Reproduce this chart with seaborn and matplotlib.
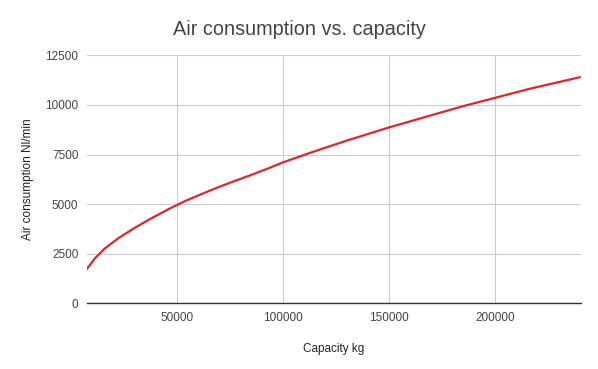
import numpy as np
import pandas as pd
import matplotlib
matplotlib.use('Agg')
import matplotlib.pyplot as plt
import seaborn as sns

# values
capacity_kg = [7300, 11200, 15900, 22200, 30000, 37900, 45800, 53600,
               61500, 69300, 77200, 85100, 92900, 100000, 114200, 129900,
               150000, 169200, 184900, 200000, 216400, 240000]
air_nl_min = [1720, 2270, 2770, 3280, 3810, 4290, 4740, 5150,
              5510, 5850, 6170, 6480, 6800, 7110, 7640, 8200,
              8870, 9460, 9940, 10360, 10820, 11400]

df = pd.DataFrame({'Capacity kg': capacity_kg, 'Air consumption Nl/min': air_nl_min})

sns.set_style('white')
plt.rcParams['font.family'] = ['Liberation Sans', 'DejaVu Sans']

fig = plt.figure(figsize=(5.98, 3.69), dpi=100)
ax = fig.add_axes([0.145, 0.178, 0.826, 0.672])

sns.lineplot(data=df, x='Capacity kg', y='Air consumption Nl/min', ax=ax,
             color='#e0262b', linewidth=1.6)

ax.set_xlim(7300, 240300)
ax.set_ylim(0, 12500)
ax.set_xticks([50000, 100000, 150000, 200000])
ax.set_yticks(np.arange(0, 12501, 2500))
ax.grid(True, color='#cccccc', linewidth=0.8)
ax.set_axisbelow(True)
for s in ['top', 'right', 'left']:
    ax.spines[s].set_visible(False)
ax.spines['bottom'].set_color('#333333')
ax.spines['bottom'].set_linewidth(1.0)
ax.tick_params(axis='both', length=0, labelsize=8.5, colors='#444444')
ax.tick_params(axis='y', pad=6)
ax.tick_params(axis='x', pad=6)

ax.set_xlabel('Capacity kg', fontsize=8.5, color='#222222', labelpad=14)
ax.set_ylabel('Air consumption Nl/min', fontsize=8.5, color='#222222', labelpad=8)
fig.suptitle('Air consumption vs. capacity', fontsize=14.3, color='#444444',
             y=0.92, va='center')

fig.savefig('out.png', dpi=100)
